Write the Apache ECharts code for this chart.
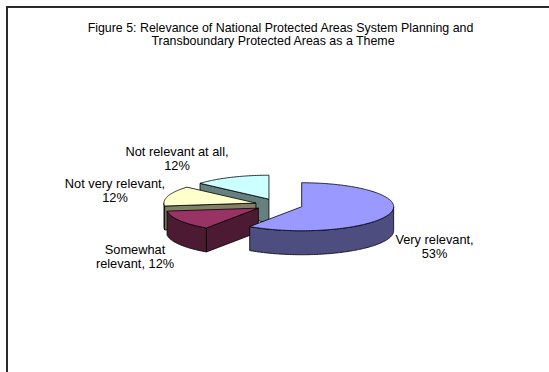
<!DOCTYPE html>
<html>
<head>
<meta charset="utf-8">
<script src="https://cdn.jsdelivr.net/npm/echarts@6/dist/echarts.min.js"></script>
<style>
  html, body { margin: 0; padding: 0; background: #ffffff; }
  #chart { width: 549px; height: 372px; }
</style>
</head>
<body>
<div id="chart"></div>
<script>
// ---- data ----
const categories = ['Very relevant', 'Somewhat relevant', 'Not very relevant', 'Not relevant at all'];
const shares = [53, 12, 12, 12];
const titleLines = [
  'Figure 5: Relevance of National Protected Areas System Planning and',
  'Transboundary Protected Areas as a Theme'
];

// ---- styling / layout ----
const sliceColors = ['#9999FF', '#993366', '#FFFFCC', '#CCFFFF'];
const FONT = '"Liberation Sans", Arial, Helvetica, sans-serif';
const pie = { cx: 278.8, cy: 204.9, rx: 92, ry: 24, depth: 24, explode: 0.26 };
const labelAnchors = [[434.5, 246], [135, 256.5], [115, 190.5], [177, 158.5]];
const labelFirstLineWords = [2, 1, 3, 4];

const total = shares.reduce((a, b) => a + b, 0);
const rad = d => d * Math.PI / 180;

function darken(hex, f) {
  const n = parseInt(hex.slice(1), 16);
  const r = Math.round(((n >> 16) & 255) * f);
  const g = Math.round(((n >> 8) & 255) * f);
  const b = Math.round((n & 255) * f);
  return 'rgb(' + r + ',' + g + ',' + b + ')';
}

// start / end angle of each slice, clockwise from 12 o'clock
function sliceRange(i, value) {
  let s = 0;
  for (let k = 0; k < i; k++) s += shares[k];
  return [s / total * 360, (s + value) / total * 360];
}

// paint order: slices reaching further toward the viewer are drawn last
const frontness = shares.map((v, i) => {
  const [a0, a1] = sliceRange(i, v);
  let m = -Infinity;
  for (let a = a0; a <= a1; a += 0.5) m = Math.max(m, -Math.cos(rad(a)));
  return m;
});
const paintRank = frontness.map(f => frontness.filter(g => g < f).length);

function renderItem(params, api) {
  const i = params.dataIndex;
  const value = api.value(1);
  const [a0, a1] = sliceRange(i, value);
  const mid = rad((a0 + a1) / 2);
  const P = [pie.cx + pie.explode * pie.rx * Math.sin(mid),
             pie.cy - pie.explode * pie.ry * Math.cos(mid)];
  const pt = (a, dy) => [P[0] + pie.rx * Math.sin(rad(a)), P[1] - pie.ry * Math.cos(rad(a)) + (dy || 0)];
  const arc = (s, t, dy) => {
    const out = [];
    const n = Math.max(2, Math.ceil(Math.abs(t - s)));
    for (let k = 0; k <= n; k++) out.push(pt(s + (t - s) * k / n, dy));
    return out;
  };
  const top = sliceColors[i];
  const side = darken(top, 0.5);
  const D = pie.depth;
  const base = paintRank[i] * 10;
  const line = { stroke: '#000', lineWidth: 0.8, lineJoin: 'round' };
  const children = [];

  // curved outer wall (front half only)
  const ws = Math.max(a0, 90), we = Math.min(a1, 270);
  if (we > ws) {
    const pts = arc(ws, we, 0).concat(arc(we, ws, D));
    children.push({ type: 'polygon', z2: base + 1, shape: { points: pts },
      style: Object.assign({ fill: side }, line) });
  }
  // radial cut faces that turn toward the viewer
  if (Math.sin(rad(a0)) < -1e-6) {
    const e = pt(a0, 0);
    children.push({ type: 'polygon', z2: base + 1,
      shape: { points: [P, e, [e[0], e[1] + D], [P[0], P[1] + D]] },
      style: Object.assign({ fill: side }, line) });
  }
  if (Math.sin(rad(a1)) > 1e-6) {
    const e = pt(a1, 0);
    children.push({ type: 'polygon', z2: base + 1,
      shape: { points: [P, e, [e[0], e[1] + D], [P[0], P[1] + D]] },
      style: Object.assign({ fill: side }, line) });
  }
  // top surface
  children.push({ type: 'polygon', z2: base + 2,
    shape: { points: [P].concat(arc(a0, a1, 0)) },
    style: Object.assign({ fill: top }, line) });

  // data label
  const words = (categories[i] + ', ' + value + '%').split(' ');
  const nFirst = labelFirstLineWords[i];
  const text = words.slice(0, nFirst).join(' ') + '\n' + words.slice(nFirst).join(' ');
  children.push({ type: 'text', z2: 100, x: labelAnchors[i][0], y: labelAnchors[i][1],
    style: { text: text, fill: '#000', font: '12.8px ' + FONT, lineHeight: 14,
             align: 'center', verticalAlign: 'middle' } });

  return { type: 'group', children: children };
}

const chart = echarts.init(document.getElementById('chart'), null, { renderer: 'svg' });
chart.setOption({
  backgroundColor: '#ffffff',
  animation: false,
  graphic: [
    { type: 'rect', z: -1, shape: { x: 7, y: 7, width: 600, height: 420 },
      style: { fill: 'none', stroke: '#2a2a2a', lineWidth: 2 } },
    { type: 'text', x: 280.5, y: 27.8,
      style: { text: titleLines[0], font: '12.4px ' + FONT, fill: '#000', align: 'center', verticalAlign: 'middle' } },
    { type: 'text', x: 273, y: 41.3,
      style: { text: titleLines[1], font: '12.4px ' + FONT, fill: '#000', align: 'center', verticalAlign: 'middle' } }
  ],
  series: [{
    type: 'custom',
    coordinateSystem: 'none',
    renderItem: renderItem,
    data: shares.map((v, i) => [i, v])
  }]
});
</script>
</body>
</html>
